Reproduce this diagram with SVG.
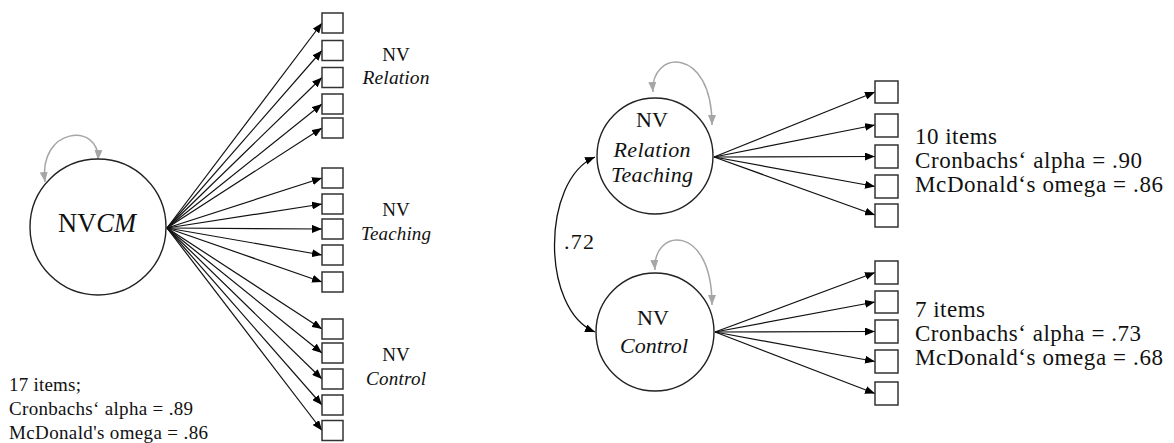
<svg xmlns="http://www.w3.org/2000/svg" width="1174" height="443" viewBox="0 0 1174 443" font-family="'Liberation Serif', Tinos, 'Times New Roman', Times, 'Nimbus Roman', 'Noto Serif', 'DejaVu Serif', FreeSerif, Georgia, serif">
<defs>
<marker id="ah" markerUnits="userSpaceOnUse" markerWidth="10" markerHeight="8" refX="10" refY="4" orient="auto-start-reverse"><path d="M0,0 L10,4 L0,8 z" fill="#000"/></marker>
<marker id="ahg" markerUnits="userSpaceOnUse" markerWidth="10" markerHeight="8" refX="10" refY="4" orient="auto-start-reverse"><path d="M0,0 L10,4 L0,8 z" fill="#a6a6a6"/></marker>
<style>
.box{fill:#fff;stroke:#333;stroke-width:1.5}
.lat{fill:#fff;stroke:#222;stroke-width:1.4}
.ln{stroke:#111;stroke-width:1.2;fill:none;marker-end:url(#ah)}
.loop{stroke:#a6a6a6;stroke-width:1.5;fill:none;marker-start:url(#ahg);marker-end:url(#ahg)}
.cor{stroke:#111;stroke-width:1.3;fill:none;marker-start:url(#ah);marker-end:url(#ah)}
text{fill:#111}
.it{font-style:italic}
.mid{text-anchor:middle}
</style>
</defs>
<rect width="1174" height="443" fill="#fff"/>
<g id="connectors">
<path class="ln" d="M167,228 L322,23"/>
<path class="ln" d="M167,228 L322,50.5"/>
<path class="ln" d="M167,228 L322,77.5"/>
<path class="ln" d="M167,228 L322,104"/>
<path class="ln" d="M167,228 L322,128"/>
<path class="ln" d="M167,228 L322,178"/>
<path class="ln" d="M167,228 L322,204"/>
<path class="ln" d="M167,228 L322,229"/>
<path class="ln" d="M167,228 L322,255"/>
<path class="ln" d="M167,228 L322,282"/>
<path class="ln" d="M167,228 L322,329"/>
<path class="ln" d="M167,228 L322,353"/>
<path class="ln" d="M167,228 L322,379"/>
<path class="ln" d="M167,228 L322,405"/>
<path class="ln" d="M167,228 L322,430.5"/>
<path class="ln" d="M714,157 L875,92"/>
<path class="ln" d="M714,157 L875,125"/>
<path class="ln" d="M714,157 L875,156.5"/>
<path class="ln" d="M714,157 L875,186.5"/>
<path class="ln" d="M714,157 L875,215"/>
<path class="ln" d="M715,332 L875,272.5"/>
<path class="ln" d="M715,332 L875,302"/>
<path class="ln" d="M715,332 L875,331.5"/>
<path class="ln" d="M715,332 L875,361.5"/>
<path class="ln" d="M715,332 L875,393.5"/>
<path class="loop" d="M45,182 C38,127 100,122 98,160"/>
<path class="loop" d="M653,92 C650,50 712,45 712,125"/>
<path class="loop" d="M655,270 C652,228 712,222 712,305"/>
<path class="cor" d="M595,157 C541,180 541,310 595,332"/>
</g>
<g id="NVCM">
<circle class="lat" cx="98" cy="227" r="68"/>
<text x="58" y="232" font-size="26.5" textLength="78">NV<tspan class="it">CM</tspan></text>
</g>
<g id="left-items">
<rect class="box" x="322" y="13" width="21" height="20"/>
<rect class="box" x="322" y="40.5" width="21" height="20"/>
<rect class="box" x="322" y="67.5" width="21" height="20"/>
<rect class="box" x="322" y="94" width="21" height="20"/>
<rect class="box" x="322" y="118" width="21" height="20"/>
<rect class="box" x="322" y="168" width="21" height="20"/>
<rect class="box" x="322" y="194" width="21" height="20"/>
<rect class="box" x="322" y="219" width="21" height="20"/>
<rect class="box" x="322" y="245" width="21" height="20"/>
<rect class="box" x="322" y="272" width="21" height="20"/>
<rect class="box" x="322" y="319" width="21" height="20"/>
<rect class="box" x="322" y="343" width="21" height="20"/>
<rect class="box" x="322" y="369" width="21" height="20"/>
<rect class="box" x="322" y="395" width="21" height="20"/>
<rect class="box" x="322" y="420.5" width="21" height="20"/>
</g>
<g id="left-labels">
<text class="mid" x="396" y="61" font-size="19">NV</text>
<text class="mid it" x="396" y="84" font-size="19.5" textLength="67">Relation</text>
<text class="mid" x="396" y="216" font-size="19">NV</text>
<text class="mid it" x="396" y="240" font-size="19" textLength="70">Teaching</text>
<text class="mid" x="396" y="361" font-size="19">NV</text>
<text class="mid it" x="396" y="385" font-size="19" textLength="60">Control</text>
</g>
<g id="left-stats">
<text x="9" y="391" font-size="19" textLength="72">17 items;</text>
<text x="9" y="415" font-size="19" textLength="184">Cronbachs‘ alpha = .89</text>
<text x="9" y="439" font-size="19" textLength="199">McDonald's omega = .86</text>
</g>
<g id="NVRelationTeaching">
<circle class="lat" cx="655" cy="156" r="58"/>
<text class="mid" x="652" y="127" font-size="22">NV</text>
<text class="mid it" x="652" y="157" font-size="22" textLength="77">Relation</text>
<text class="mid it" x="652" y="182" font-size="22" textLength="82">Teaching</text>
</g>
<g id="NVControl">
<circle class="lat" cx="655" cy="332" r="59"/>
<text class="mid" x="653" y="325" font-size="22">NV</text>
<text class="mid it" x="654" y="353" font-size="22" textLength="68">Control</text>
</g>
<g id="right-items">
<rect class="box" x="875" y="81" width="23" height="22"/>
<rect class="box" x="875" y="114" width="23" height="23"/>
<rect class="box" x="875" y="145" width="23" height="23"/>
<rect class="box" x="875" y="175" width="23" height="23"/>
<rect class="box" x="875" y="204" width="23" height="23"/>
<rect class="box" x="875" y="261" width="23" height="23"/>
<rect class="box" x="875" y="291" width="23" height="22"/>
<rect class="box" x="875" y="320" width="23" height="23"/>
<rect class="box" x="875" y="350" width="23" height="23"/>
<rect class="box" x="875" y="382" width="23" height="23"/>
</g>
<g id="corr-label">
<text x="564" y="249" font-size="22" textLength="30">.72</text>
</g>
<g id="right-stats">
<text x="915" y="144" font-size="23" textLength="82">10 items</text>
<text x="915" y="168" font-size="23" textLength="227">Cronbachs‘ alpha = .90</text>
<text x="915" y="192" font-size="23" textLength="248">McDonald‘s omega = .86</text>
<text x="915" y="317" font-size="23" textLength="70">7 items</text>
<text x="915" y="341" font-size="23" textLength="226">Cronbachs‘ alpha = .73</text>
<text x="915" y="365" font-size="23" textLength="248">McDonald‘s omega = .68</text>
</g>
</svg>
